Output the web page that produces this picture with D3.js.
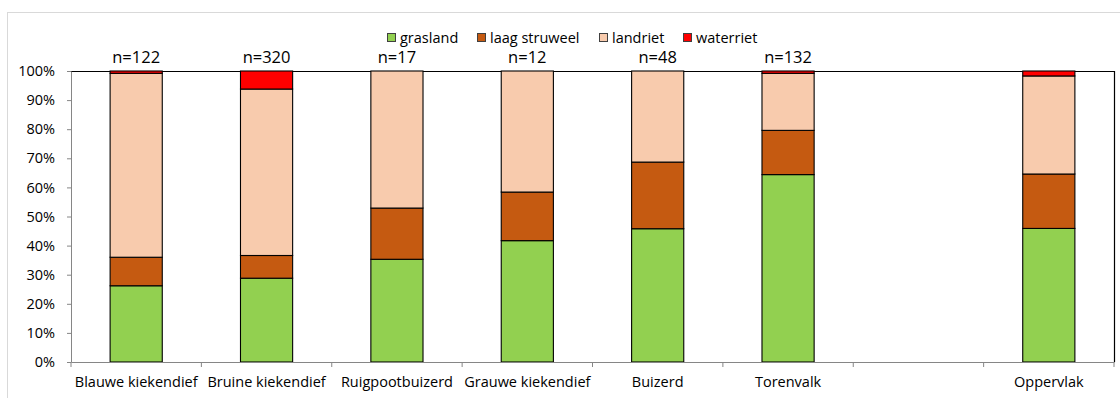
<!DOCTYPE html>
<html><head><meta charset="utf-8">
<script src="https://cdn.jsdelivr.net/npm/d3@7"></script>
<style>
body{margin:0;background:#fff;}
text{font-family:"Open Sans","Noto Sans",sans-serif;fill:#000;}
</style></head>
<body><svg id="c" width="1120" height="398"></svg>
<script>
const categories = ["Blauwe kiekendief","Bruine kiekendief","Ruigpootbuizerd","Grauwe kiekendief","Buizerd","Torenvalk","","Oppervlak"];
const nLabels = ["n=122","n=320","n=17","n=12","n=48","n=132","",""];
const grasland     = [26.2, 28.8, 35.3, 41.7, 45.8, 64.4, 0, 45.9];
const laagStruweel = [ 9.8,  7.8, 17.6, 16.7, 22.9, 15.2, 0, 18.7];
const landriet     = [63.2, 57.2, 47.1, 41.6, 31.3, 19.6, 0, 33.7];
const waterriet    = [ 0.8,  6.2,  0.0,  0.0,  0.0,  0.8, 0,  1.7];
const seriesNames = ["grasland","laag struweel","landriet","waterriet"];
const seriesColors = ["#92D050","#C55A11","#F8CBAD","#FF0000"];
const yTicks = [0,10,20,30,40,50,60,70,80,90,100];

const svg = d3.select("#c");
const m = {left:71, right:1114, top:71, bottom:362};

// outer chart border
svg.append("rect").attr("x",7.5).attr("y",12.5).attr("width",1130).attr("height",400)
  .attr("fill","none").attr("stroke","#d9d9d9").attr("stroke-width",1);

const keys = categories.map((c,i)=>"k"+i);
const x = d3.scaleBand().domain(keys).range([m.left,m.right]).paddingInner(0.6).paddingOuter(0.3);
const y = d3.scaleLinear().domain([0,100]).range([m.bottom,m.top]);

const rows = keys.map((k,i)=>({key:k, grasland:grasland[i], "laag struweel":laagStruweel[i], landriet:landriet[i], waterriet:waterriet[i]}));
const stack = d3.stack().keys(seriesNames)(rows);

// plot frame (top/right)
svg.append("path").attr("d",`M${m.left},${m.top+0.5}H${m.right+0.5}V${m.bottom}`)
  .attr("fill","none").attr("stroke","#000").attr("stroke-width",1.2);

// bars
stack.forEach((s,si)=>{
  svg.append("g").selectAll("rect").data(s.filter(d=>d[1]-d[0]>0)).join("rect")
    .attr("x",d=>x(d.data.key))
    .attr("width",x.bandwidth())
    .attr("y",d=>y(d[1]))
    .attr("height",d=>y(d[0])-y(d[1]))
    .attr("fill",seriesColors[si])
    .attr("stroke","#000").attr("stroke-width",1.1);
});

// y axis
const yAxis = svg.append("g").attr("transform",`translate(${m.left},0)`)
  .call(d3.axisLeft(y).tickValues(yTicks).tickFormat(d=>d+"%").tickSizeOuter(0).tickSizeInner(4).tickPadding(12));
yAxis.select(".domain").attr("stroke","#868686");
yAxis.selectAll(".tick line").attr("stroke","#868686");
yAxis.selectAll("text").style("font-size","14.5px").attr("fill","#000");

// x axis
const step = (m.right-m.left)/categories.length;
const xAxis = svg.append("g").attr("transform",`translate(0,${m.bottom})`)
  .call(d3.axisBottom(x).tickFormat((d,i)=>categories[i]).tickSize(0).tickSizeOuter(0).tickPadding(15));
xAxis.select(".domain").attr("stroke","#868686");
xAxis.selectAll("text").style("font-size","14.5px").attr("fill","#000");
const bounds = d3.range(categories.length+1).map(i=>m.left+i*step);
svg.append("g").selectAll("line").data(bounds).join("line")
  .attr("x1",d=>d).attr("x2",d=>d).attr("y1",m.bottom).attr("y2",m.bottom+5)
  .attr("stroke","#868686");

// n labels
svg.append("g").selectAll("text").data(keys).join("text")
  .attr("x",k=>x(k)+x.bandwidth()/2).attr("y",m.top-8)
  .attr("text-anchor","middle").style("font-size","16.5px")
  .text((k,i)=>nLabels[i]);

// legend
const legendX = [387, 477, 599, 683];
const lg = svg.append("g");
seriesNames.forEach((s,i)=>{
  lg.append("rect").attr("x",legendX[i]+0.5).attr("y",33.5).attr("width",8).attr("height",8)
    .attr("fill",seriesColors[i]).attr("stroke","#404040").attr("stroke-width",1);
  lg.append("text").attr("x",legendX[i]+13).attr("y",42.5).style("font-size","14.5px").text(s);
});
</script></body></html>
